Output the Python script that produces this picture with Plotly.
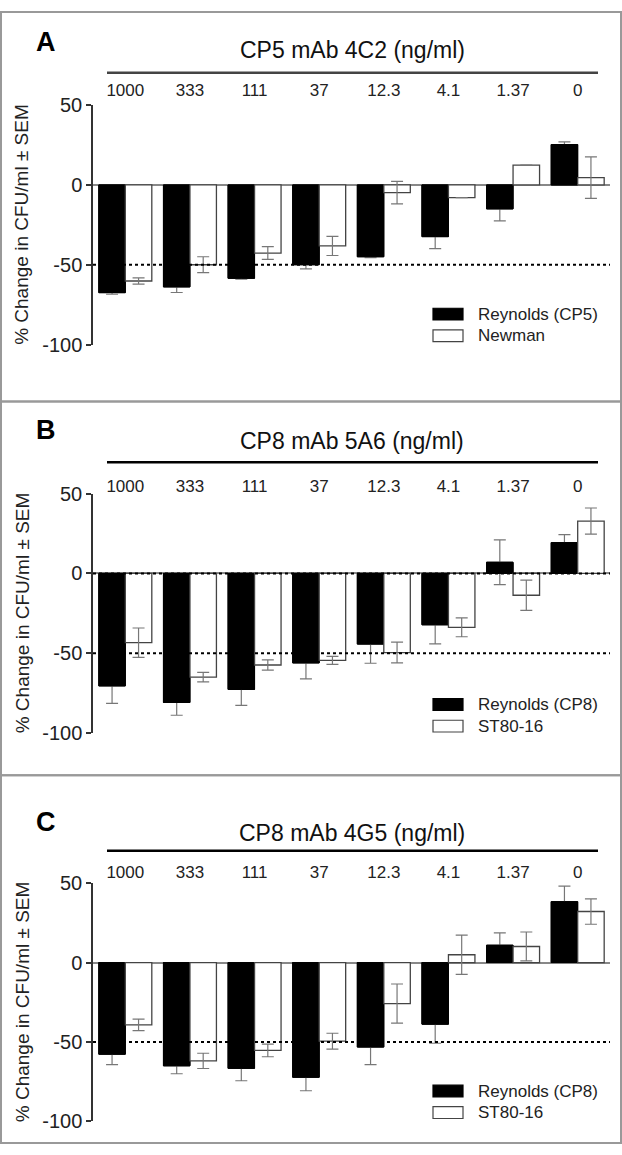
import plotly.graph_objects as go

# Page size in px
W, H = 622, 1155
FONT = "Liberation Sans, Arial, sans-serif"

# Antibody concentrations (ng/ml)
concentrations = ["1000", "333", "111", "37", "12.3", "4.1", "1.37", "0"]

# y axis ticks (hyphen minus, as in the original)
y_ticks = [-100, -50, 0, 50]
y_tick_text = ["-100", "-50", "0", "50"]

# Panel A - CP5 mAb 4C2
reynolds_cp5 = [-67.5, -63.9, -58.5, -50.0, -45.0, -32.4, -15.0, 25.3]
reynolds_cp5_sem = [1.0, 3.5, 0.5, 2.6, 0.6, 7.5, 7.5, 1.7]
newman = [-60.2, -50.0, -42.7, -38.2, -4.8, -7.9, 12.4, 4.6]
newman_sem = [2.0, 5.0, 4.0, 6.0, 7.0, None, None, 13.0]

# Panel B - CP8 mAb 5A6
reynolds_cp8_5a6 = [-70.5, -80.9, -72.7, -56.1, -44.3, -32.2, 7.0, 19.3]
reynolds_cp8_5a6_sem = [11.0, 8.0, 10.0, 10.0, 12.0, 12.0, 14.0, 5.0]
st80_5a6 = [-43.4, -65.0, -57.4, -54.5, -49.6, -33.8, -13.7, 32.8]
st80_5a6_sem = [9.2, 3.0, 3.2, 2.5, 6.5, 5.9, 9.5, 8.2]

# Panel C - CP8 mAb 4G5
reynolds_cp8_4g5 = [-57.7, -65.0, -66.6, -72.2, -53.2, -38.8, 10.9, 38.3]
reynolds_cp8_4g5_sem = [6.6, 5.0, 7.8, 8.5, 11.0, 12.0, 7.7, 9.8]
st80_4g5 = [-39.2, -61.9, -55.3, -49.5, -25.8, 4.9, 10.1, 32.1]
st80_4g5_sem = [3.6, 4.8, 4.0, 5.0, 12.3, 12.3, 9.1, 8.0]

threshold = -50

panels = [
    dict(letter="A", title="CP5 mAb 4C2 (ng/ml)", name1="Reynolds (CP5)", name2="Newman",
         v1=reynolds_cp5, e1=reynolds_cp5_sem, v2=newman, e2=newman_sem,
         top=96, bottom=340, letter_y=32, title_y=40, rule_y=63, rule_color="#444",
         leg_y=309, standoff=5, zero_dot=False),
    dict(letter="B", title="CP8 mAb 5A6 (ng/ml)", name1="Reynolds (CP8)", name2="ST80-16",
         v1=reynolds_cp8_5a6, e1=reynolds_cp8_5a6_sem, v2=st80_5a6, e2=st80_5a6_sem,
         top=492, bottom=736, letter_y=427, title_y=438, rule_y=460, rule_color="#000",
         leg_y=707, standoff=-3, zero_dot=True),
    dict(letter="C", title="CP8 mAb 4G5 (ng/ml)", name1="Reynolds (CP8)", name2="ST80-16",
         v1=reynolds_cp8_4g5, e1=reynolds_cp8_4g5_sem, v2=st80_4g5, e2=st80_4g5_sem,
         top=889, bottom=1132, letter_y=827, title_y=838, rule_y=856, rule_color="#000",
         leg_y=1101, standoff=1, zero_dot=False),
]


def py(p):
    return 1 - p / H


def px(p):
    return p / W


fig = go.Figure()
shapes = []
annotations = []
layout = {}

idx = list(range(len(concentrations)))
x_black = [i - 0.205 for i in idx]
x_white = [i + 0.205 for i in idx]
err_style = dict(color="#777", thickness=1.2, width=6)

for k, p in enumerate(panels):
    s = "" if k == 0 else str(k + 1)
    xa, ya = "x" + s, "y" + s

    # black bars with error bars, then the same bars again to hide the inner half
    fig.add_trace(go.Bar(x=x_black, y=p["v1"], width=0.41, xaxis=xa, yaxis=ya,
                         marker=dict(color="black", line=dict(color="black", width=1)),
                         error_y=dict(type="data", array=p["e1"], **err_style),
                         showlegend=False, hoverinfo="y"))
    fig.add_trace(go.Bar(x=x_black, y=p["v1"], width=0.41, xaxis=xa, yaxis=ya,
                         marker=dict(color="black", line=dict(color="black", width=1)),
                         showlegend=False, hoverinfo="skip"))
    fig.add_trace(go.Bar(x=x_white, y=p["v2"], width=0.41, xaxis=xa, yaxis=ya,
                         marker=dict(color="white", line=dict(color="#444", width=1.3)),
                         error_y=dict(type="data", array=p["e2"], **err_style),
                         showlegend=False, hoverinfo="y"))

    layout["xaxis" + s] = dict(
        domain=[px(93), px(610)], range=[-0.5, 7.5], anchor=ya, side="top",
        tickvals=idx, ticktext=concentrations, ticks="", showline=False,
        showgrid=False, zeroline=False, ticklabelstandoff=p["standoff"],
        tickfont=dict(size=17, color="#222", family=FONT))
    layout["yaxis" + s] = dict(
        domain=[py(p["bottom"]), py(p["top"])], range=[-100, 50], anchor=xa,
        tickvals=y_ticks, ticktext=y_tick_text, showline=True, linecolor="#333", linewidth=1.5,
        ticks="outside", ticklen=5, tickwidth=1.5, tickcolor="#333", showgrid=False,
        zeroline=True, zerolinecolor="#888", zerolinewidth=1.5,
        tickfont=dict(size=20, color="#222", family=FONT))

    # dotted reference line at -50 (and at 0 in panel B)
    levels = [threshold, 0] if p["zero_dot"] else [threshold]
    for lv in levels:
        shapes.append(dict(type="line", xref=xa + " domain", yref=ya, x0=0, x1=1, y0=lv, y1=lv,
                           line=dict(color="black", width=2, dash="dot"), layer="above"))

    # rule under the panel title
    shapes.append(dict(type="line", xref="paper", yref="paper", x0=px(107), x1=px(598),
                       y0=py(p["rule_y"]), y1=py(p["rule_y"]),
                       line=dict(color=p["rule_color"], width=2.5)))

    annotations += [
        dict(text="<b>" + p["letter"] + "</b>", x=px(46), y=py(p["letter_y"]),
             font=dict(size=27, color="black")),
        dict(text=p["title"], x=px(352), y=py(p["title_y"]), font=dict(size=23, color="#111")),
        dict(text="% Change in CFU/ml \u00b1 SEM", textangle=-90, x=px(22),
             y=py((p["top"] + p["bottom"]) / 2), font=dict(size=19, color="#222")),
    ]

    # legend drawn by hand (wide boxes as in the original)
    for j, (name, fill, edge) in enumerate([(p["name1"], "black", "black"), (p["name2"], "white", "#444")]):
        yc = p["leg_y"] + 22 * j
        shapes.append(dict(type="rect", xref="paper", yref="paper", x0=px(433), x1=px(463),
                           y0=py(yc + 6), y1=py(yc - 6), fillcolor=fill,
                           line=dict(color=edge, width=1.2)))
        annotations.append(dict(text=name, x=px(476), y=py(yc), xanchor="left",
                                font=dict(size=17, color="#222")))

# panel frames
for y0, y1 in [(1, 398), (398, 779), (779, 1154)]:
    shapes.append(dict(type="rect", xref="paper", yref="paper", x0=px(1), x1=px(621),
                       y0=py(y1), y1=py(y0), line=dict(color="#999", width=2)))

for a in annotations:
    a.update(xref="paper", yref="paper", showarrow=False)
    a.setdefault("xanchor", "center")
    a.setdefault("yanchor", "middle")

fig.update_layout(
    width=W, height=H,
    margin=dict(l=0, r=0, t=0, b=0),
    barmode="overlay",
    plot_bgcolor="white", paper_bgcolor="white",
    font=dict(family=FONT, color="#222"),
    shapes=shapes, annotations=annotations,
    showlegend=False,
    **layout
)

# drop the default 8px page margin so the figure sits at the window corner
fig.write_html("out.html", config={"displayModeBar": False},
               post_script="document.body.style.margin='0';")
